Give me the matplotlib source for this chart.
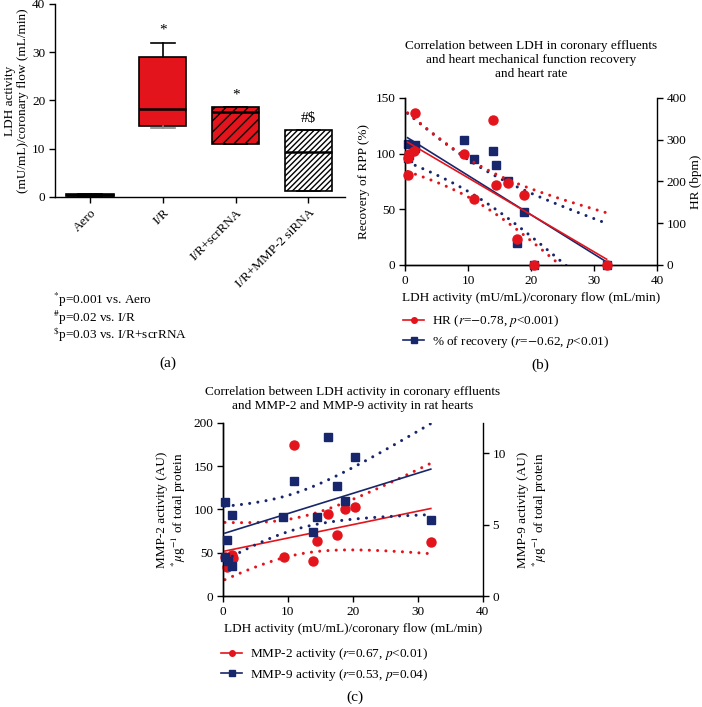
import matplotlib
matplotlib.use("Agg")
import matplotlib.pyplot as plt
import numpy as np

plt.rcParams['font.family'] = ['Liberation Serif', 'DejaVu Serif']
plt.rcParams['font.size'] = 9.5
plt.rcParams['mathtext.fontset'] = 'stix'

RED = '#e3141b'
NAVY = '#18266b'

# ---- panel (a): LDH activity box plots
groups = ['Aero', 'I/R', 'I/R+scrRNA', 'I/R+MMP-2 siRNA']
box_low = [0.1, 14.3, 10.9, 1.2]
box_q1 = [0.15, 14.8, 10.9, 1.2]
box_med = [0.4, 18.3, 17.6, 9.3]
box_q3 = [0.6, 29.0, 18.6, 13.8]
box_high = [0.7, 32.0, 18.6, 13.8]
marks = ['', '*', '*', '#$']

# ---- panel (b): LDH vs HR / recovery of RPP
ldh_hr = [0.4, 0.4, 0.6, 1.4, 1.6, 9.4, 11.0, 13.9, 14.5, 16.3, 17.8, 18.8, 20.4, 32.0]
hr = [215, 256, 266, 272, 363, 265, 158, 348, 192, 197, 62, 167, 0, 0]
ldh_rpp = [0.4, 0.5, 0.6, 1.5, 1.6, 9.4, 11.0, 13.9, 14.5, 16.3, 17.8, 18.8, 20.4, 32.0]
rpp = [96, 109, 99, 105, 108, 112, 95.5, 102.7, 89.6, 75.2, 19.5, 47.9, 0, 0]

# ---- panel (c): LDH vs MMP-2 / MMP-9 activity
ldh_mmp2 = [0.3, 0.6, 0.7, 1.4, 1.5, 9.4, 10.9, 13.9, 14.4, 16.2, 17.6, 18.8, 20.4, 32.0]
mmp2 = [45, 33, 43, 47, 44, 45, 174, 40.5, 64, 95, 70.5, 100, 102.5, 63]
ldh_mmp9 = [0.3, 0.3, 0.6, 0.7, 1.4, 1.4, 9.3, 10.9, 13.9, 14.4, 16.2, 17.6, 18.8, 20.3, 32.0]
mmp9 = [6.57, 2.76, 3.9, 2.48, 5.7, 2.13, 5.54, 8.05, 4.49, 5.57, 11.16, 7.74, 6.69, 9.75, 5.33]


def fit_band(x, y):
    # linear fit with 95% confidence band
    x = np.asarray(x, float)
    y = np.asarray(y, float)
    n = len(x)
    slope, icpt = np.polyfit(x, y, 1)
    xs = np.linspace(x.min(), x.max(), 120)
    yh = icpt + slope * xs
    s = np.sqrt(np.sum((y - (icpt + slope * x)) ** 2) / (n - 2))
    se = s * np.sqrt(1 / n + (xs - x.mean()) ** 2 / np.sum((x - x.mean()) ** 2))
    t = 2.18 if n <= 14 else 2.16
    return xs, yh, yh - t * se, yh + t * se


def draw_fit(ax, x, y, color, marker, ms):
    xs, yh, lo, hi = fit_band(x, y)
    ax.plot(xs, yh, color=color, lw=1.2, zorder=2)
    for band in (lo, hi):
        ax.plot(xs, band, color=color, lw=2.2, linestyle=(0, (0.01, 2.7)),
                dash_capstyle='round', zorder=2, clip_on=True)
    ax.plot(x, y, linestyle='none', marker=marker, color=color, ms=ms, zorder=3, clip_on=False)


def style(ax, right=False):
    ax.spines['top'].set_visible(False)
    if not right:
        ax.spines['right'].set_visible(False)
    ax.tick_params(direction='out', length=4, width=1, pad=3)
    for s in ax.spines.values():
        s.set_linewidth(1.0)


fig = plt.figure(figsize=(7.02, 7.07), dpi=100)

# ================= (a)
ax = fig.add_axes([0.0783, 0.7214, 0.413, 0.2730])
stats = []
for i in range(4):
    stats.append(dict(whislo=box_low[i], q1=box_q1[i], med=box_med[i], q3=box_q3[i],
                      whishi=box_high[i], fliers=[], label=groups[i]))
res = ax.bxp(stats, positions=range(4), widths=0.65, patch_artist=True, showfliers=False,
             boxprops=dict(linewidth=1.2), medianprops=dict(color='black', linewidth=1.8),
             whiskerprops=dict(linewidth=1.2), capprops=dict(linewidth=1.2))
fills = ['black', RED, RED, 'white']
hatches = [None, None, '///', '//////']
for b, fc, h in zip(res['boxes'], fills, hatches):
    b.set_facecolor(fc)
    b.set_edgecolor('black')
    if h:
        b.set_hatch(h)
res['caps'][2].set_color('#888888')
res['whiskers'][2].set_color('#888888')
for i, m in enumerate(marks):
    if m:
        ax.text(i, box_high[i] + 1.2, m, ha='center', va='bottom', fontsize=11)
ax.set_xlim(-0.48, 3.5)
ax.set_ylim(0, 40)
ax.set_yticks([0, 10, 20, 30, 40])
ax.set_xticks(range(4))
ax.set_xticklabels(groups, rotation=45, ha='right', rotation_mode='anchor')
ax.set_ylabel('LDH activity\n(mU/mL)/coronary flow (mL/min)', fontsize=9.5, linespacing=1.15)
ax.yaxis.set_label_coords(-0.09, 0.5)
style(ax)

fig.text(0.075, 1 - 300 / 707, r'$^{*}$p=0.001 vs. Aero', va='center')
fig.text(0.075, 1 - 318 / 707, r'$^{\#}$p=0.02 vs. I/R', va='center')
fig.text(0.075, 1 - 335 / 707, r'$^{\$}$p=0.03 vs. I/R+scrRNA', va='center')
fig.text(168 / 702, 1 - 363 / 707, '(a)', ha='center', va='center', fontsize=11)

# ================= (b)
ax = fig.add_axes([0.577, 0.6252, 0.359, 0.2362])
ax2 = ax.twinx()
draw_fit(ax, ldh_rpp, rpp, NAVY, 's', 6)
draw_fit(ax2, ldh_hr, hr, RED, 'o', 6.5)
ax.set_xlim(0, 40)
ax.set_ylim(0, 150)
ax2.set_ylim(0, 400)
ax.set_xticks([0, 10, 20, 30, 40])
ax.set_yticks([0, 50, 100, 150])
ax2.set_yticks([0, 100, 200, 300, 400])
ax.set_xlabel('LDH activity (mU/mL)/coronary flow (mL/min)', labelpad=4)
ax.set_ylabel('Recovery of RPP (%)', labelpad=4)
ax2.set_ylabel('HR (bpm)', labelpad=2)
style(ax)
style(ax2, right=True)
fig.text(531 / 702, 1 - 40 / 707,
         'Correlation between LDH in coronary effluents\nand heart mechanical function recovery\nand heart rate',
         ha='center', va='top', linespacing=1.2)
hb = [plt.Line2D([], [], color=RED, marker='o', ms=4, lw=1.2),
      plt.Line2D([], [], color=NAVY, marker='s', ms=4, lw=1.2)]
fig.legend(hb, [r'HR ($r$=$-$0.78, $p$<0.001)', r'% of recovery ($r$=$-$0.62, $p$<0.01)'],
           loc='upper left', bbox_to_anchor=(398 / 702, 1 - 308 / 707), frameon=False,
           handlelength=1.6, handletextpad=0.6, labelspacing=0.35, borderaxespad=0)
fig.text(540 / 702, 1 - 365 / 707, '(b)', ha='center', va='center', fontsize=11)

# ================= (c)
ax = fig.add_axes([0.3177, 0.157, 0.370, 0.2447])
ax2 = ax.twinx()
draw_fit(ax, ldh_mmp2, mmp2, RED, 'o', 6.5)
draw_fit(ax2, ldh_mmp9, mmp9, NAVY, 's', 6)
ax.set_xlim(0, 40)
ax.set_ylim(0, 200)
ax2.set_ylim(0, 12.13)
ax.set_xticks([0, 10, 20, 30, 40])
ax.set_yticks([0, 50, 100, 150, 200])
ax2.set_yticks([0, 5, 10])
ax.set_xlabel('LDH activity (mU/mL)/coronary flow (mL/min)', labelpad=4)
ax.set_ylabel('MMP-2 activity (AU)\n$^{*}\\mu$g$^{-1}$ of total protein', labelpad=4, linespacing=1.15)
ax2.set_ylabel('MMP-9 activity (AU)\n$^{*}\\mu$g$^{-1}$ of total protein', labelpad=8, linespacing=1.15)
style(ax)
style(ax2, right=True)
fig.text(353 / 702, 1 - 386 / 707,
         'Correlation between LDH activity in coronary effluents\nand MMP-2 and MMP-9 activity in rat hearts',
         ha='center', va='top', linespacing=1.2)
hc = [plt.Line2D([], [], color=RED, marker='o', ms=4, lw=1.2),
      plt.Line2D([], [], color=NAVY, marker='s', ms=4, lw=1.2)]
fig.legend(hc, [r'MMP-2 activity ($r$=0.67, $p$<0.01)', r'MMP-9 activity ($r$=0.53, $p$=0.04)'],
           loc='upper left', bbox_to_anchor=(216 / 702, 1 - 641 / 707), frameon=False,
           handlelength=1.6, handletextpad=0.6, labelspacing=0.35, borderaxespad=0)
fig.text(355 / 702, 1 - 697 / 707, '(c)', ha='center', va='center', fontsize=11)

fig.savefig('out.png', dpi=100)
